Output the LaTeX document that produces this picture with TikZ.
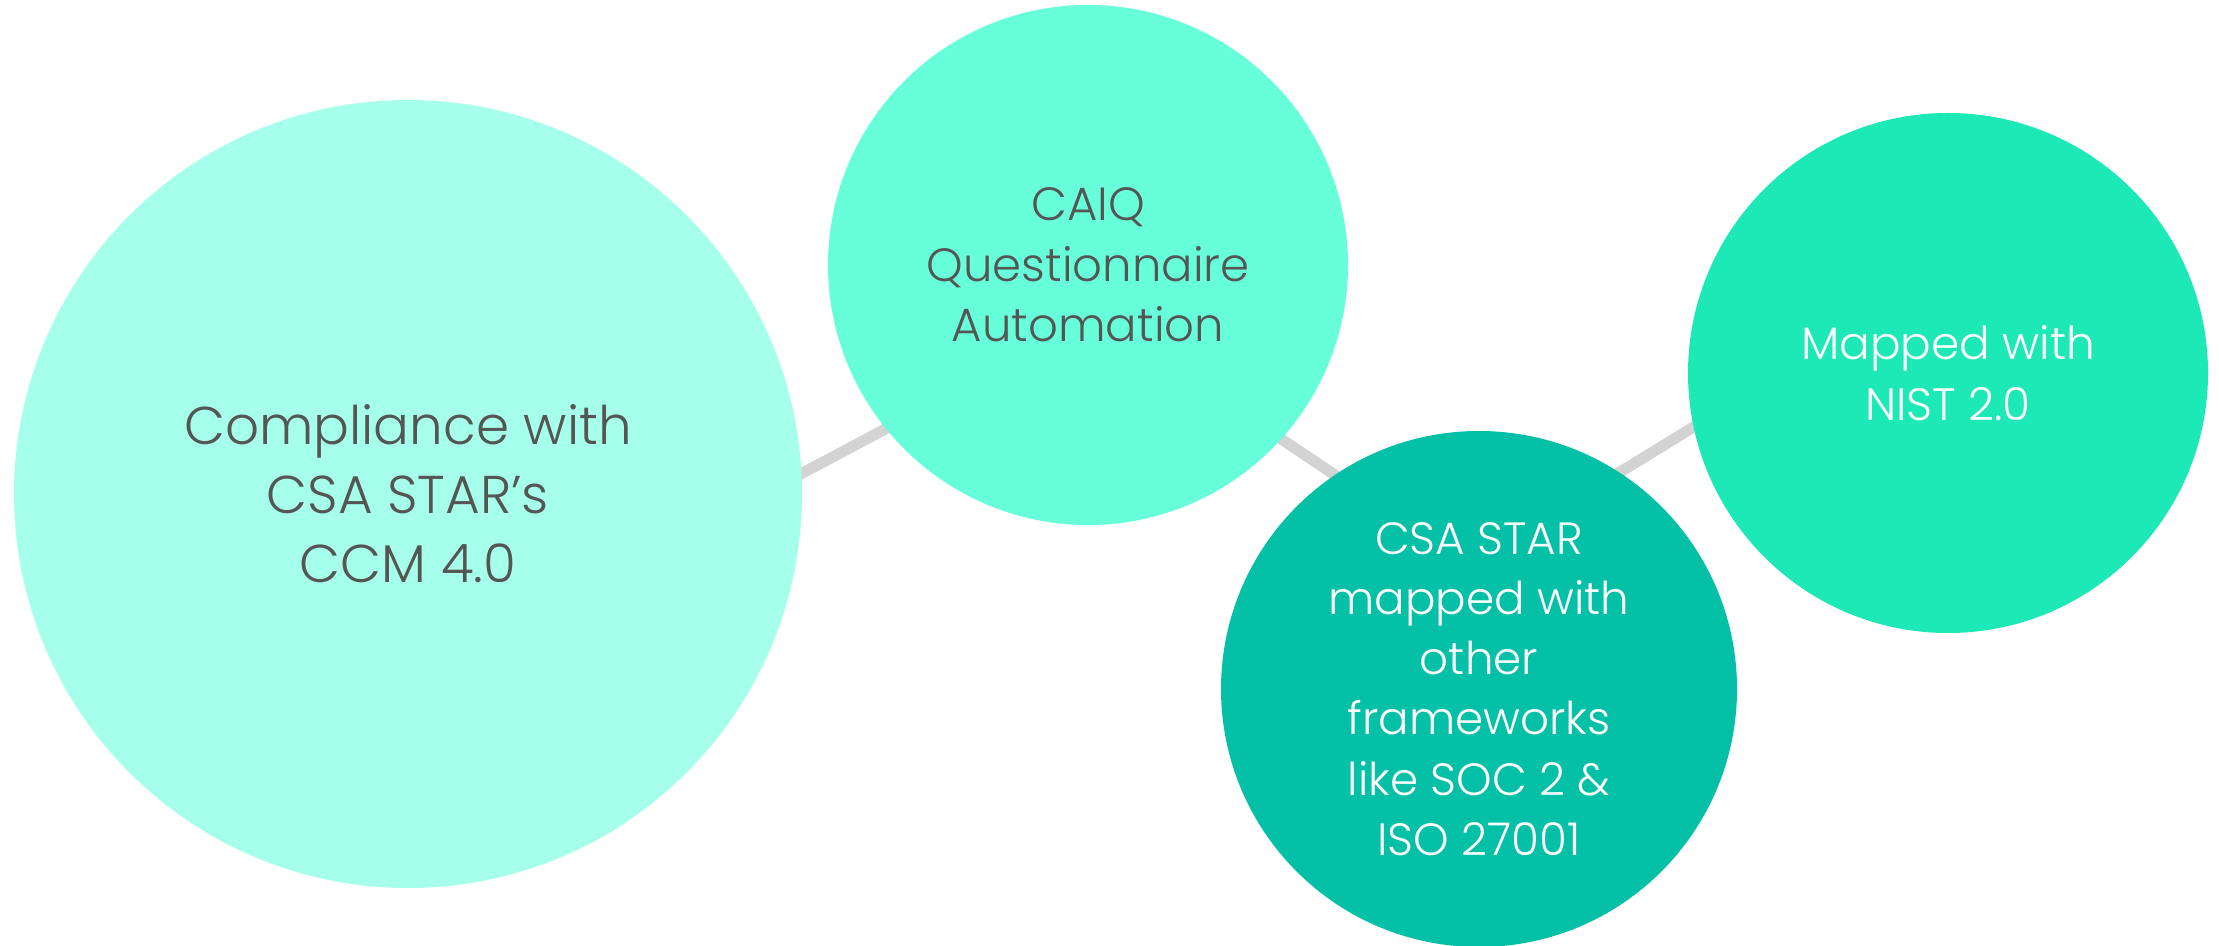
\documentclass[tikz,border=0pt]{standalone}
\usepackage{fontspec}
\IfFontExistsTF{Poppins Light}{\setmainfont{Poppins Light}}{\setmainfont{Poppins}}
\usetikzlibrary{backgrounds}
\definecolor{cbig}{HTML}{A5FFEA}
\definecolor{ccaiq}{HTML}{66FFDA}
\definecolor{cstar}{HTML}{04C0A7}
\definecolor{cnist}{HTML}{1DE9B6}
\definecolor{clink}{HTML}{D3D3D3}
\definecolor{ctxt}{HTML}{555555}
\tikzset{
  bubble/.style={circle, inner sep=0pt, align=center},
  link/.style={draw=clink, line width=5.5pt, shorten <=-8pt, shorten >=-8pt}
}
\begin{document}
\begin{tikzpicture}[x=0.5pt,y=-0.5pt]
\useasboundingbox (0,0) rectangle (2219,946);
\node[bubble, fill=cbig, minimum size=394pt, text=ctxt,
  font=\fontsize{26.6}{34.5}\selectfont] (big) at (408,494)
  {Compliance with\\CSA STAR’s\\CCM 4.0};
\node[bubble, fill=ccaiq, minimum size=260pt, text=ctxt,
  font=\fontsize{23.3}{30.25}\selectfont] (caiq) at (1088,265)
  {CAIQ\\Questionnaire\\Automation};
\node[bubble, fill=cstar, minimum size=258pt, text=white,
  font=\fontsize{22.6}{30.1}\selectfont] (star) at (1479,689)
  {CSA STAR\\mapped with\\other\\frameworks\\like SOC 2 \&\\ISO 27001};
\node[bubble, fill=cnist, minimum size=260pt, text=white,
  font=\fontsize{22.7}{30.1}\selectfont] (nist) at (1948,373)
  {Mapped with\\NIST 2.0};
\begin{scope}[on background layer]
\draw[link] (big.3.3) -- (caiq.219.4);
\draw[link] (caiq.-42) -- (star.124.2);
\draw[link] (star.57.9) -- (nist.192.6);
\end{scope}
\end{tikzpicture}
\end{document}
